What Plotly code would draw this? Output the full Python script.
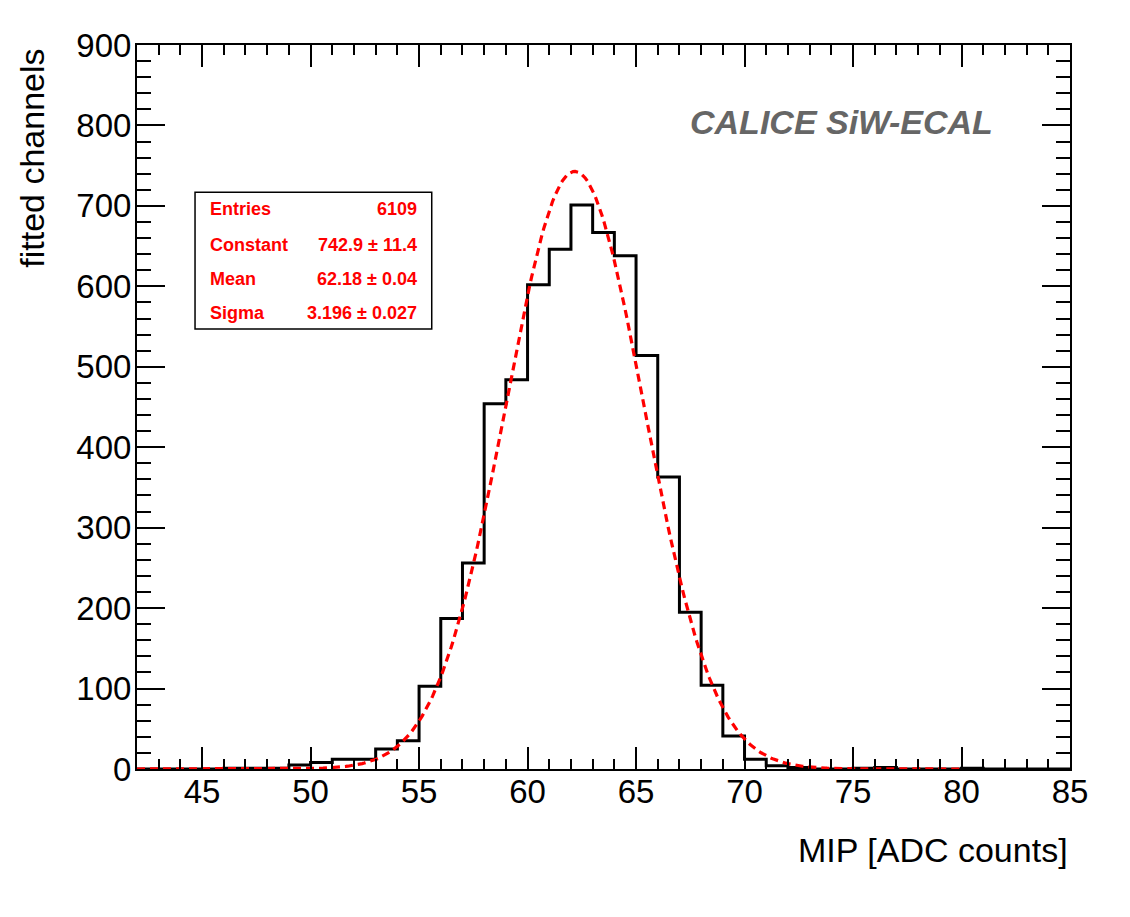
import numpy as np
import plotly.graph_objects as go

# ---------------- data ----------------
bin_edges = list(range(42, 86))  # 42 ... 85
counts = [0, 0, 0, 0, 1, 1, 1, 5, 8, 12, 12, 25, 35, 103, 187, 256, 454, 484,
          602, 646, 701, 667, 638, 514, 363, 195, 104, 41, 12, 4, 2, 0, 0, 1,
          2, 0, 0, 0, 1, 0, 0, 0, 0]

fit_constant = 742.9
fit_mean = 62.18
fit_sigma = 3.196
fit_range = [42, 80]

stats_labels = ["Entries", "Constant", "Mean", "Sigma"]
stats_values = ["6109", "742.9 \u00b1 11.4", "62.18 \u00b1 0.04", "3.196 \u00b1 0.027"]

x_ticks = [45, 50, 55, 60, 65, 70, 75, 80, 85]
y_ticks = [0, 100, 200, 300, 400, 500, 600, 700, 800, 900]

# ---------------- figure ----------------
FONT = "Liberation Sans, Arial, Helvetica, sans-serif"

step_x = bin_edges
step_y = counts + [counts[-1]]

xf = np.linspace(fit_range[0], fit_range[1], 400)
yf = fit_constant * np.exp(-0.5 * ((xf - fit_mean) / fit_sigma) ** 2)

fig = go.Figure()
fig.add_trace(go.Scatter(x=step_x, y=step_y, mode="lines", line_shape="hv",
                         line=dict(color="black", width=3), hoverinfo="skip"))
fig.add_trace(go.Scatter(x=xf, y=yf, mode="lines",
                         line=dict(color="#ff0000", width=3.2, dash="8px,5px"),
                         hoverinfo="skip"))

axis_common = dict(showline=True, linecolor="black", linewidth=2, mirror="allticks",
                   ticks="inside", tickcolor="black", tickwidth=2, showgrid=False,
                   zeroline=False, tickfont=dict(family=FONT, size=33, color="black"))

fig.update_layout(
    width=1130, height=917,
    margin=dict(l=137, r=60, t=45, b=148),
    paper_bgcolor="white", plot_bgcolor="white",
    showlegend=False,
    xaxis=dict(range=[42, 85], tickvals=x_ticks, ticklen=22, ticklabelstandoff=-8,
               minor=dict(dtick=1, tick0=0, ticklen=10, ticks="inside", tickcolor="black", tickwidth=2),
               **axis_common),
    yaxis=dict(range=[0, 900], tickvals=y_ticks, ticklen=28, ticklabelstandoff=-3,
               minor=dict(dtick=20, tick0=0, ticklen=14, ticks="inside", tickcolor="black", tickwidth=2),
               **axis_common),
)

# axis titles
fig.add_annotation(text="MIP [ADC counts]", xref="paper", yref="paper", x=1.0, y=-0.112,
                   xanchor="right", yanchor="middle", showarrow=False,
                   font=dict(family=FONT, size=34, color="black"))
fig.add_annotation(text="fitted channels", xref="paper", yref="paper", x=-0.1125, y=0.843,
                   xanchor="center", yanchor="middle", textangle=-90, showarrow=False,
                   font=dict(family=FONT, size=34, color="black"))

# CALICE label
fig.add_annotation(text="<b><i>CALICE SiW-ECAL</i></b>", xref="paper", yref="paper",
                   x=0.7546, y=0.8936, xanchor="center", yanchor="middle", showarrow=False,
                   font=dict(family=FONT, size=34, color="#666666"))

# stats box
fig.add_shape(type="rect", xref="paper", yref="paper", x0=0.0622, x1=0.3159, y0=0.6077, y1=0.7966,
              line=dict(color="black", width=1.5), fillcolor="white", layer="above")
row_y = [0.7735, 0.7238, 0.6768, 0.6298]
for lab, val, yy in zip(stats_labels, stats_values, row_y):
    fig.add_annotation(text="<b>%s</b>" % lab, xref="paper", yref="paper", x=0.0758, y=yy,
                       xanchor="left", yanchor="middle", showarrow=False,
                       font=dict(family=FONT, size=18, color="#ff0000"))
    fig.add_annotation(text="<b>%s</b>" % val, xref="paper", yref="paper", x=0.3022, y=yy,
                       xanchor="right", yanchor="middle", showarrow=False,
                       font=dict(family=FONT, size=18, color="#ff0000"))

fig.write_html("out.html")
